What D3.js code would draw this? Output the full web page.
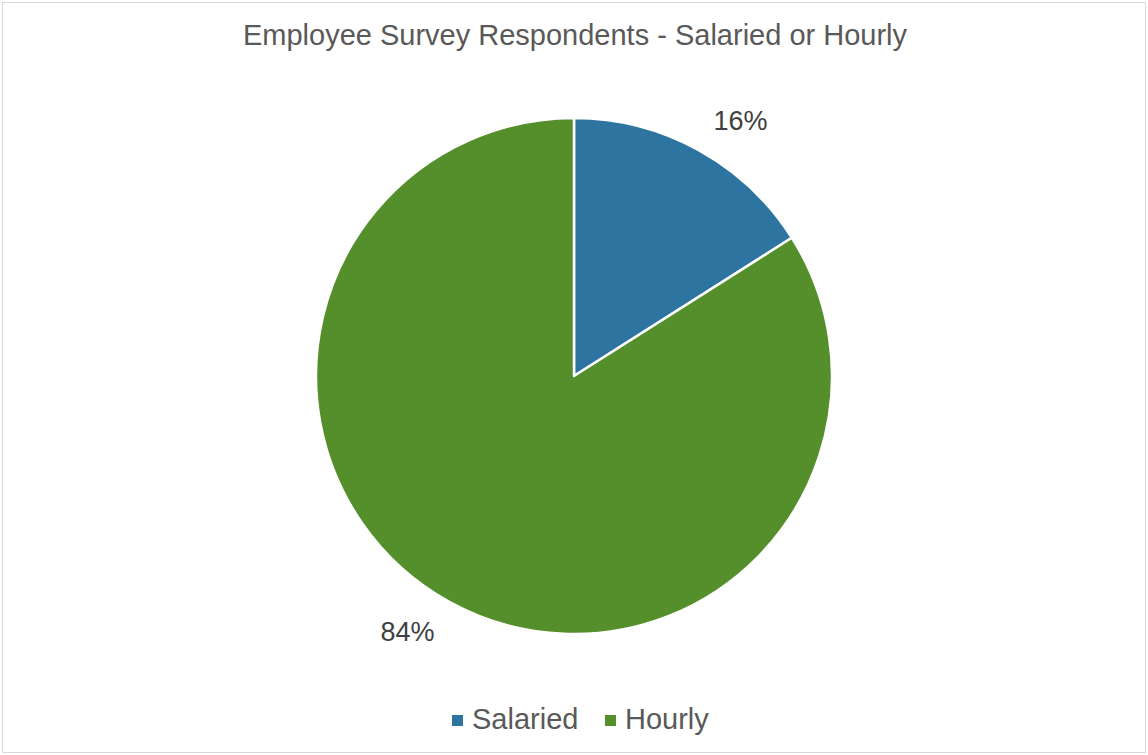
<!DOCTYPE html>
<html lang="en">
  <head>
    <meta charset="utf-8">
    <title>Employee Survey Respondents</title>
    <script src="https://cdnjs.cloudflare.com/ajax/libs/d3/7.8.5/d3.min.js"></script>
    <style type="text/css">
      body { margin: 0; background: #fff; }
    </style>
  </head>
  <body>
    <script type="text/javascript">
    // chart data
    var categories = ["Salaried", "Hourly"];
    var shares = [16, 84];
    var colors = ["#2E74A0", "#548F2B"];

    var w = 1148;
    var h = 755;
    var cx = 574, cy = 376, radius = 258;

    var svg = d3.select("body")
      .append("svg")
      .attr("width", w)
      .attr("height", h);

    // outer frame
    svg.append("rect")
      .attr("x", 2.5).attr("y", 2.5)
      .attr("width", w - 5).attr("height", h - 5)
      .attr("fill", "#fff")
      .attr("stroke", "#d9d9d9")
      .attr("stroke-width", 1);

    svg.append("text")
      .attr("x", 575)
      .attr("y", 45)
      .attr("text-anchor", "middle")
      .attr("font-family", "Liberation Sans, Arial, sans-serif")
      .attr("font-size", "29px")
      .attr("fill", "#595959")
      .text("Employee Survey Respondents - Salaried or Hourly");

    var data = categories.map(function(c, i) {
      return { name: c, value: shares[i], color: colors[i] };
    });

    var pie = d3.pie().sort(null).value(function(d) { return d.value; });
    var arc = d3.arc().innerRadius(0).outerRadius(radius);

    var g = svg.append("g").attr("transform", "translate(" + cx + "," + cy + ")");

    g.selectAll("path")
      .data(pie(data))
      .enter()
      .append("path")
      .attr("d", arc)
      .attr("fill", function(d) { return d.data.color; })
      .attr("stroke", "#fff")
      .attr("stroke-width", 2.5)
      .attr("stroke-linejoin", "round");

    // data labels outside the pie (excel "best fit" places them a bit past the mid angle)
    var labelR = 305, labelShift = 4.3 * Math.PI / 180;
    g.selectAll("text.lbl")
      .data(pie(data))
      .enter()
      .append("text")
      .attr("class", "lbl")
      .attr("x", function(d) {
        var a = (d.startAngle + d.endAngle) / 2 + labelShift;
        return Math.sin(a) * labelR;
      })
      .attr("y", function(d) {
        var a = (d.startAngle + d.endAngle) / 2 + labelShift;
        return -Math.cos(a) * labelR;
      })
      .attr("dy", "0.35em")
      .attr("text-anchor", "middle")
      .attr("font-family", "Liberation Sans, Arial, sans-serif")
      .attr("font-size", "27px")
      .attr("fill", "#404040")
      .text(function(d) { return d.data.value + "%"; });

    // legend
    var legendX = [452, 605];
    var legend = svg.selectAll("g.legend")
      .data(data)
      .enter()
      .append("g")
      .attr("class", "legend")
      .attr("transform", function(d, i) { return "translate(" + legendX[i] + ",729)"; });

    legend.append("rect")
      .attr("x", 0).attr("y", -14)
      .attr("width", 11).attr("height", 11)
      .attr("fill", function(d) { return d.color; });

    legend.append("text")
      .attr("x", 20)
      .attr("y", 0)
      .attr("font-family", "Liberation Sans, Arial, sans-serif")
      .attr("font-size", "29px")
      .attr("fill", "#595959")
      .text(function(d) { return d.name; });
    </script>
  </body>
</html>
